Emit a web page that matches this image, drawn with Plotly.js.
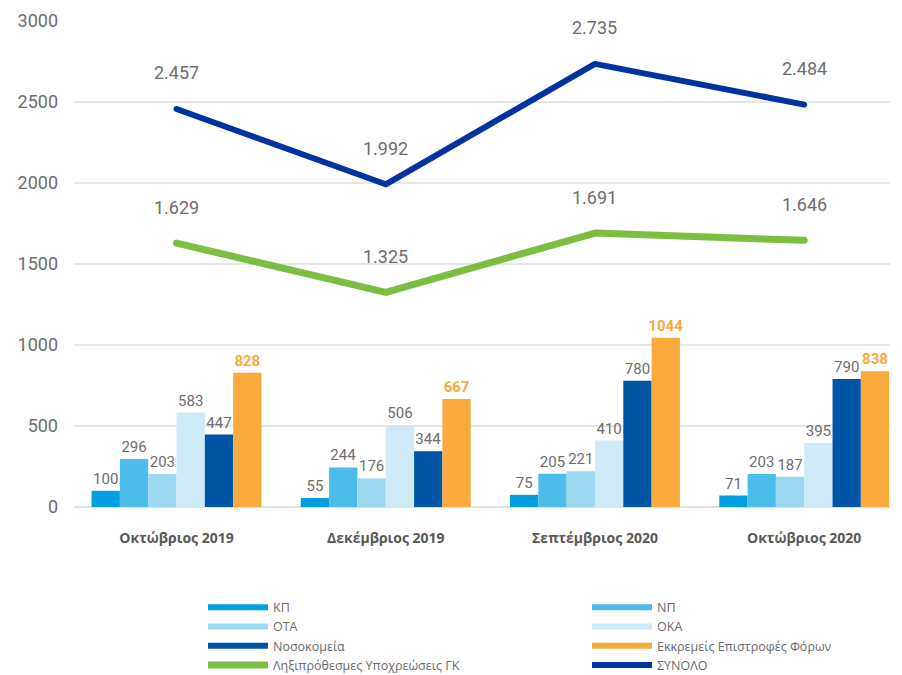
<!DOCTYPE html>
<html>
<head>
<meta charset="utf-8">
<script src="https://cdn.plot.ly/plotly-3.0.1.min.js"></script>
<style>
  html, body { margin: 0; padding: 0; background: #fff; }
  .scatterlayer .js-line { stroke-linecap: round; stroke-linejoin: round; }
</style>
</head>
<body>
<div id="chart" style="width:902px;height:675px;"></div>
<script>
const categories = ['Οκτώβριος 2019', 'Δεκέμβριος 2019', 'Σεπτέμβριος 2020', 'Οκτώβριος 2020'];
const kp = [100, 55, 75, 71];
const np = [296, 244, 205, 203];
const ota = [203, 176, 221, 187];
const oka = [583, 506, 410, 395];
const nosokomeia = [447, 344, 780, 790];
const epistrofes = [828, 667, 1044, 838];
const lixiprothesmes = [1629, 1325, 1691, 1646];
const synolo = [2457, 1992, 2735, 2484];
const yTicks = [0, 500, 1000, 1500, 2000, 2500, 3000];

const barSeries = [
  { name: 'ΚΠ', values: kp, color: '#009fe0', legend: 'legend' },
  { name: 'ΝΠ', values: np, color: '#4cbdea', legend: 'legend2' },
  { name: 'ΟΤΑ', values: ota, color: '#9cd8f2', legend: 'legend' },
  { name: 'ΟΚΑ', values: oka, color: '#cdeaf6', legend: 'legend2' },
  { name: 'Νοσοκομεία', values: nosokomeia, color: '#0055a4', legend: 'legend' },
  { name: 'Εκκρεμείς Επιστροφές Φόρων', values: epistrofes, color: '#f8aa3f', legend: 'legend2', highlight: true }
];
const lineSeries = [
  { name: 'Ληξιπρόθεσμες Υποχρεώσεις ΓΚ', values: lixiprothesmes, color: '#7cbd42', width: 7, legend: 'legend' },
  { name: 'ΣΥΝΟΛΟ', values: synolo, color: '#0033a0', width: 6, legend: 'legend2' }
];

const numFont = 'Roboto, "DejaVu Sans", sans-serif';
const legendFont = '"Open Sans", "Noto Sans", sans-serif';

function fmt(v) { return String(v).replace(/\B(?=(\d{3})+(?!\d))/g, '.'); }

const traces = [];
// legend entries for bar series (drawn as thick lines, as in the reference)
barSeries.forEach(s => {
  traces.push({
    type: 'scatter', mode: 'lines', name: s.name,
    x: [null], y: [null],
    line: { color: s.color, width: 6 },
    hoverinfo: 'skip', showlegend: true, legend: s.legend
  });
});
barSeries.forEach(s => {
  traces.push({
    type: 'bar', name: s.name, x: categories, y: s.values,
    marker: { color: s.color, line: { width: 0 } },
    text: s.values.map(String),
    textposition: 'outside',
    constraintext: 'none',
    cliponaxis: false,
    textfont: s.highlight
      ? { family: numFont, size: 15, color: '#f8aa3f', weight: 'bold' }
      : { family: numFont, size: 15, color: '#6d6d6d' },
    showlegend: false
  });
});
lineSeries.forEach(s => {
  traces.push({
    type: 'scatter', mode: 'lines', name: s.name, x: categories, y: s.values,
    line: { color: s.color, width: s.width },
    cliponaxis: false, legend: s.legend
  });
});

const annotations = [];
lineSeries.forEach(s => {
  s.values.forEach((v, i) => {
    annotations.push({
      x: categories[i], y: v, text: fmt(v), showarrow: false,
      yshift: 36, font: { family: numFont, size: 18, color: '#6d6d6d' }
    });
  });
});

const legendCommon = {
  orientation: 'v', xanchor: 'left', yanchor: 'top',
  xref: 'container', yref: 'container',
  y: 0.122, itemwidth: 60, tracegroupgap: 0,
  font: { family: legendFont, size: 12.5, color: '#6a6a6a' },
  traceorder: 'normal', bgcolor: 'rgba(0,0,0,0)'
};

const layout = {
  width: 902, height: 675,
  margin: { l: 74, r: 12, t: 21, b: 168, autoexpand: false },
  paper_bgcolor: '#fff', plot_bgcolor: '#fff',
  barmode: 'group', bargap: 0.188, bargroupgap: 0,
  showlegend: true,
  xaxis: {
    type: 'category', range: [-0.49, 3.41],
    showgrid: false, showline: false, zeroline: false, ticks: '',
    tickfont: { family: '"Open Sans", "Noto Sans", sans-serif', size: 14, color: '#595959', weight: 'bold' },
    ticklabelstandoff: 21
  },
  yaxis: {
    range: [0, 3000], tickvals: yTicks, ticktext: yTicks.map(String),
    showgrid: true, gridcolor: '#e6e6e6', gridwidth: 1.5,
    zeroline: true, zerolinecolor: '#e0e0e0', zerolinewidth: 2,
    showline: false, ticks: '',
    tickfont: { family: numFont, size: 18, color: '#6d6d6d' },
    ticklabelstandoff: 15
  },
  legend: Object.assign({}, legendCommon, { x: 203 / 902 }),
  legend2: Object.assign({}, legendCommon, { x: 587 / 902 }),
  annotations: annotations
};

Plotly.newPlot('chart', traces, layout, { displayModeBar: false, staticPlot: true });
</script>
</body>
</html>
